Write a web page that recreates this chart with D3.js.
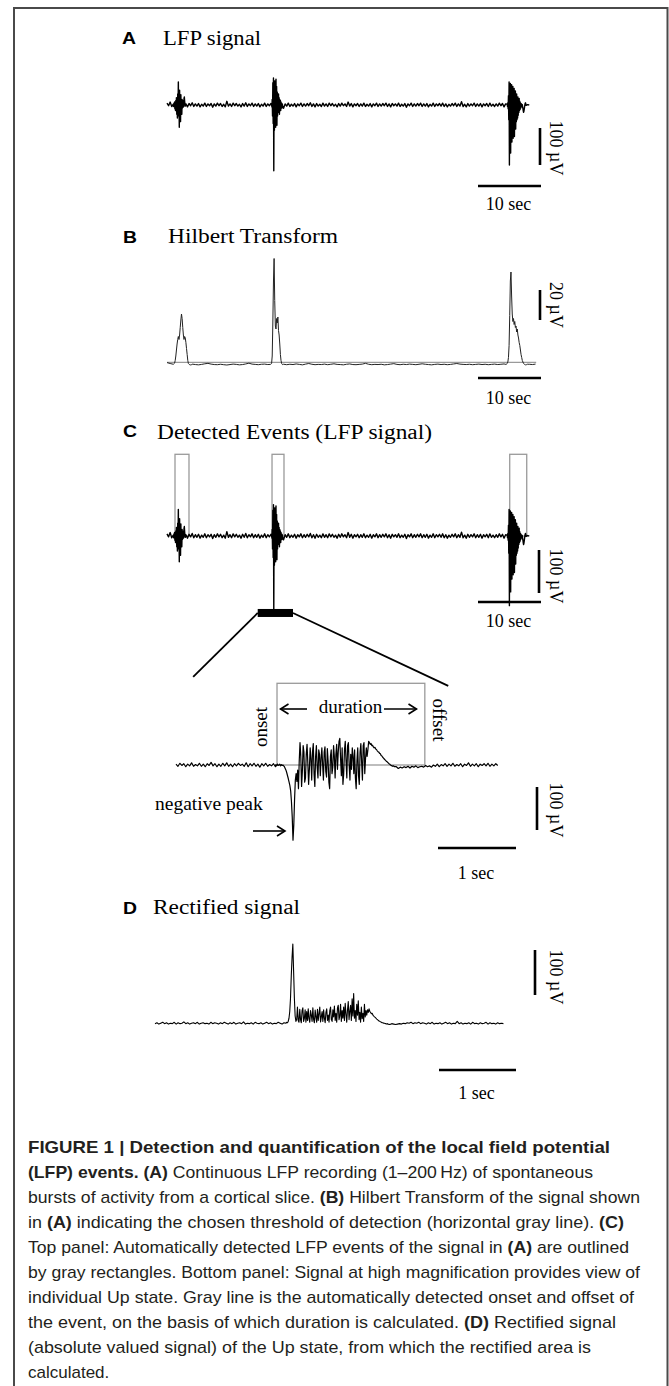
<!DOCTYPE html>
<html><head><meta charset="utf-8">
<script src="https://cdn.jsdelivr.net/npm/d3@7"></script>
<style>body{margin:0;background:#fff}svg{display:block}</style>
</head><body><svg id="fig" width="669" height="1386"></svg>
<script>
// ---------------- DATA ----------------
// LFP recording (panels A and C-top), µV. Baseline sampled every 0.25 s, events every 0.05 s
const lfpBaseDt = 0.25;
const lfpBase = [
5,-2,8,-4,3,-5,4,-3,2,-4,5,-3,3,-5,4,-2,6,-4,3,-3,
4,-5,2,-3,5,-4,3,-2,4,-6,3,-3,5,-2,4,-4,2,-5,10,-3,
3,-4,5,-2,4,-3,2,-5,4,-3,6,-4,3,-2,5,-4,3,-3,4,-5,
2,-3,5,-4,3,-2,4,-5,3,-3,5,-2,4,-4,-9,3,-3,5,-4,2,
-3,4,-5,3,-2,5,-4,3,-3,4,-2,6,-4,3,-5,4,-3,2,-4,5,
-3,3,-4,5,-2,4,-3,2,-5,4,-3,5,-2,3,-4,8,-3,4,-5,3,
-2,4,-4,3,-3,5,-4,2,-3,4,-5,3,-2,5,-4,3,-3,4,-2,5,
-4,3,-5,4,-2,3,-3,5,-4,2,-3,4,-6,3,-2,5,-4,3,-3,4,
-2,5,-4,3,-3,4,-5,2,-3,5,-4,3,-2,4,-3,5,-4,3,-5,2,
-3,4,-2,5,-4,3,-3,9,-4,2,-5,4,-3,3,-2,5,-4,3,-3,4,
-5,3,-2,4,-4,5,-3,2,-4,3,-3,5,-2,4,-5,3,-3,4,-2,5,
-4,3,-3,4,-2,3,-4,2,-1,1,0];
const lfpEventDt = 0.05;
const lfpEventStarts = [1.0, 16.6, 54.0];
const lfpEvent1 = [2,-4,5,-3,8,-10,6,-15,12,-8, 20,-25,15,-35,30,-20,62,-30,25,-60,
  40,-22,18,-45,28,-15,10,-25,15,-8, 12,-6,8,-4,18,22,10,3,-3,2];
const lfpEvent2 = [2,-5,15,-30,60,-50,73,-178,40,-68, 65,-45,55,-60,70,-40,50,-55,35,-30,
  25,-20,30,-18,20,-25,15,-10,12,-15, 8,-6,5,-8,3,-2];
const lfpEvent3 = [2,-4,6,-10,25,-40,62,-162,45,-95, 58,-130,40,-80,55,-100,35,-70,50,-90,
  30,-60,45,-85,25,-50,38,-65,20,-45, 30,-40,15,-35,22,-28,12,-20,18,-15,
  10,-12,6,-8,4,-5,2,-4,1,-6, -10,-16,-20,-17,-12,-6,0,4,6,3];

// Hilbert transform (panel B), µV. Baseline every 0.5 s, events every 0.1 s
const hilbertBaseDt = 0.5;
const hilbertBase = [3.6,3.0,2.8,3.0,2.6,2.4,2.5,2.2,2.6,2.3,2.1,2.4,2.8,3.1,2.6,2.3,2.2,2.5,2.2,2.0,
  2.3,2.6,2.4,2.1,2.3,2.7,3.2,2.6,2.4,2.2,2.5,2.6,2.3,2.9,2.4,2.6,2.8,2.3,2.2,2.5,
  2.3,2.7,2.4,2.1,2.6,3.0,2.5,2.2,2.4,2.3,2.6,2.2,2.5,2.8,2.4,2.3,2.1,2.5,2.7,2.3,
  2.2,2.4,2.6,3.1,2.5,2.2,2.4,2.3,2.5,2.1,2.3,2.6,2.9,2.4,2.2,2.5,2.3,2.6,2.4,2.2,
  2.5,2.8,2.5,2.3,2.1,2.4,2.6,2.3,2.5,2.2,2.4,2.7,3.0,2.6,2.4,2.3,2.5,2.2,2.4,2.6,
  2.3,2.5,2.2,2.4,2.6,2.3,2.5,2.7,2.4,2.3,2.5,2.2,2.4,2.6,2.2,2.5,2.3,2.6];
const hilbertEventDt = 0.1;
const hilbertEventStarts = [1.0, 16.4, 53.8];
const hilbertEvent1 = [2.5,2.8,3.2,5,8,12,16,19,21,19,22,27,32,36,33,27,22,19,21,20,17,13,9,5,3,2.5,2.2,2.0,2.3,2.1];
const hilbertEvent2 = [2.4,2.6,3,8,30,58,73,45,28,26,33,30,34,25,22,16,9,5,3,2.4,2.2,2.5];
const hilbertEvent3 = [2.4,2.6,3,4,7,15,35,58,64,48,36,31,33,29,31,27,28,24,26,22,20,17,15,12,9,7,5,4,3,2.6,2.3,2.1,2.4,2.2,2.5];
const hilbertThreshold = 3.8;

// Detected event windows (panel C), s, and rectangle height, µV
const eventOnsets  = [1.27, 16.67, 54.4];
const eventOffsets = [3.49, 18.57, 57.1];
const eventBoxTop = 190;
const zoomWindow = [14.4, 20.0];

// Magnified Up state (panel C-bottom), µV. Baseline every 0.025 s, event every 0.01 s
const zoomBaseDt = 0.025;
const zoomBase = [2,-3,4,-1,3,-4,2,-2,5,-3,1,-2,4,-3,2,-4,3,-1,6,-2,
  3,-4,2,-3,4,-2,5,-3,2,-4,3,-2,4,-1,2,-3,5,-4,3,-2,
  4,-3,2,-5,3,-2,4,-3,1,-2,3,-4,2,-1,4,-3,2,-2,3,-4,
  2,-3,4,-2,3,-3,2,-4,3,-2,4,-3,2,-3,4,-2,3,-4,2,-3,
  3,-2,4,-3,2,-4,3,-2,4,-3,2,-3,4,-2,3,-4,2,-3,3,-2,
  3,-4,2,-3,4,-2,3,-3,2,-4,3,-2,-6,-4,-8,-5,-7,-4,-6,-3,
  -7,-3,-5,-2,-6,-4,-3,-5,-1,-4,-2,-5,0,-3,2,-4,1,-2,3,-3,
  2,-2,4,-3,1,-2,3,-4,2,-1,5,-3,2,-2,3,-4,2,-1,3,-2,
  4,-3,2,-2,3,-1];
const zoomEventDt = 0.01;
const zoomEventStart = 1.28;
const zoomEvent = [1,-2,2,-1,0,2,-2,1,-1,0,
  -2,-4,-8,-12,-18,-25,-32,-40,-48,-60,
  -85,-120,-175,-140,-80,-35,-20,-38,-12,-55,
  10,52,20,-50,-15,45,30,-40,-30,25,
  48,5,-45,-10,40,15,-35,30,50,-20,
  -50,20,45,-5,-30,35,25,-25,15,40,
  0,-35,30,42,-15,-28,38,10,-40,-55,
  20,35,-20,-5,45,20,-30,25,48,-10,
  30,55,62,15,-25,40,-45,-20,35,55,
  10,-30,45,52,0,-35,25,-10,40,20,
  -20,35,-30,-55,10,40,-25,-45,30,50,
  5,-35,45,52,-20,15,40,20,35,55,
  52,48,50,45,46,42,40,41,37,36,
  33,31,30,27,26,22,21,18,16,14,
  12,10,8,7,5,3,2,0,-1,-2,
  -3,-2,-4];
const zoomOnset = 1.295, zoomOffset = 3.19;

// Rectified signal (panel D), µV
const rectBaseDt = 0.025;
const rectBase = [3,5,2,4,6,3,5,2,4,3,6,2,5,3,4,7,3,5,2,4,
  5,3,6,2,4,5,3,4,2,6,3,5,4,2,5,3,6,4,2,5,
  3,6,2,4,5,3,7,2,4,3,5,2,6,4,3,5,2,4,6,3,
  5,2,4,3,6,4,2,5,3,4,2,5,3,6,2,4,3,5,4,2,
  4,3,5,2,6,3,4,2,5,3,4,6,2,5,3,4,2,5,3,4,
  2,5,3,4,6,2,4,3,5,2,4,3,5,2,6,3,4,2,5,3,
  1,2,1,3,2,1,2,3,2,4,3,5,4,6,3,5,4,6,3,5,
  4,2,5,3,6,2,4,3,5,2,4,6,3,5,2,4,3,8,3,5,
  2,4,3,5,2,6,3,4,2,5,3,4,6,2,5,3,4,2,5,3,
  4,3];
const rectEventDt = 0.01;
const rectEventStart = 1.70;
const rectEvent = [4,6,5,8,15,30,60,110,150,180,
  120,60,20,8,12,40,10,6,35,12,
  5,32,38,8,15,34,6,30,10,36,
  14,6,32,22,8,38,12,5,33,18,
  6,35,10,25,40,7,18,30,8,34,
  15,5,28,36,10,22,6,32,40,12,
  8,34,18,42,10,26,6,38,44,12,
  20,46,8,32,15,40,10,48,25,6,
  34,52,12,30,44,10,58,20,70,15,
  32,8,46,22,54,12,28,6,40,14,
  26,8,46,18,32,22,34,28,36,30,
  28,25,26,22,20,18,17,15,13,12,
  10,9,8,7,6,5,5,4,4,3,
  3,2,3];

// Labels
const panelLetters = ["A","B","C","D"];
const panelTitles = ["LFP signal","Hilbert Transform","Detected Events (LFP signal)","Rectified signal"];
const ampLabels = ["100 µV","20 µV","100 µV","100 µV","100 µV"];
const timeLabels = ["10 sec","10 sec","10 sec","1 sec","1 sec"];
const ampBars = [100, 20, 100, 100, 100];
const timeBars = [10, 10, 10, 1, 1];

// ---------------- DRAWING ----------------
const svg = d3.select("#fig");
svg.append("rect").attr("width",669).attr("height",1386).attr("fill","#fff");

function buildTrace(base, baseDt, starts, evDt, events){
  const wins = events.map((ev,i)=>[starts[i], starts[i]+evDt*(ev.length-1)]);
  const pts = [];
  base.forEach((v,i)=>{const t=i*baseDt; if(!wins.some(w=>t>=w[0]-1e-9&&t<=w[1]+1e-9)) pts.push({t,v});});
  events.forEach((ev,k)=>ev.forEach((v,j)=>pts.push({t:starts[k]+j*evDt,v})));
  return pts.sort((a,b)=>a.t-b.t);
}

const lfp = buildTrace(lfpBase, lfpBaseDt, lfpEventStarts, lfpEventDt, [lfpEvent1,lfpEvent2,lfpEvent3]);
const hil = buildTrace(hilbertBase, hilbertBaseDt, hilbertEventStarts, hilbertEventDt, [hilbertEvent1,hilbertEvent2,hilbertEvent3]);
const zm = buildTrace(zoomBase, zoomBaseDt, [zoomEventStart], zoomEventDt, [zoomEvent]);
const rc = buildTrace(rectBase, rectBaseDt, [rectEventStart], rectEventDt, [rectEvent]);

// scales
const xL = d3.scaleLinear().domain([0,10]).range([167,230]);
const yA = d3.scaleLinear().domain([0,100]).range([105,68]);
const yB = d3.scaleLinear().domain([0,20]).range([368,338]);
const yC = d3.scaleLinear().domain([0,100]).range([536,493]);
const xZ = d3.scaleLinear().domain([0,1]).range([176,254]);
const yZ = d3.scaleLinear().domain([0,100]).range([765,722]);
const xD = d3.scaleLinear().domain([0,1]).range([155,232]);
const yD = d3.scaleLinear().domain([0,100]).range([1025,980]);

// frame
svg.append("path").attr("d","M14,1386V8H667.5V1386").attr("fill","none").attr("stroke","#4a4a4a").attr("stroke-width",2);

function trace(data,x,y,w,col){
  svg.append("path").datum(data)
    .attr("d",d3.line().x(d=>x(d.t)).y(d=>y(d.v)))
    .attr("fill","none").attr("stroke",col||"#000").attr("stroke-width",w).attr("stroke-linejoin","round");
}

// Panel C boxes (drawn under trace)
eventOnsets.forEach((on,i)=>{
  svg.append("rect").attr("x",xL(on)).attr("y",yC(eventBoxTop))
    .attr("width",xL(eventOffsets[i])-xL(on)).attr("height",yC(0)-yC(eventBoxTop))
    .attr("fill","none").attr("stroke","#9a9a9a").attr("stroke-width",1.3);
});
// zoom box
svg.append("rect").attr("x",xZ(zoomOnset)).attr("y",yZ(eventBoxTop))
  .attr("width",xZ(zoomOffset)-xZ(zoomOnset)).attr("height",yZ(0)-yZ(eventBoxTop))
  .attr("fill","none").attr("stroke","#9a9a9a").attr("stroke-width",1.3);

// threshold B
svg.append("line").attr("x1",xL(0)).attr("x2",xL(58.6)).attr("y1",yB(hilbertThreshold)).attr("y2",yB(hilbertThreshold))
  .attr("stroke","#9a9a9a").attr("stroke-width",1.2);

trace(lfp,xL,yA,1.4);
trace(hil,xL,yB,1.0,"#222");
trace(lfp,xL,yC,1.4);
trace(zm,xZ,yZ,1.2);
trace(rc,xD,yD,1.1);

// zoom indicator
const barV = -179;
svg.append("rect").attr("x",xL(zoomWindow[0])).attr("y",yC(barV)-4)
  .attr("width",xL(zoomWindow[1])-xL(zoomWindow[0])).attr("height",8).attr("fill","#000");
svg.append("line").attr("x1",xL(zoomWindow[0])).attr("y1",yC(barV)).attr("x2",xZ(0.22)).attr("y2",yZ(205))
  .attr("stroke","#000").attr("stroke-width",1.8);
svg.append("line").attr("x1",xL(zoomWindow[1])).attr("y1",yC(barV)).attr("x2",xZ(3.49)).attr("y2",yZ(184))
  .attr("stroke","#000").attr("stroke-width",1.8);

// scale bars
const bars = [
  {x:xL,y:yA,vx:540,vTop:128,hy:186,hR:541,lx:549.5,ly:148,ty:210},
  {x:xL,y:yB,vx:540,vTop:290,hy:378,hR:541,lx:549.5,ly:305,ty:404},
  {x:xL,y:yC,vx:539,vTop:550,hy:602,hR:541,lx:549.5,ly:576,ty:627},
  {x:xZ,y:yZ,vx:537,vTop:787,hy:848,hR:516,lx:549.5,ly:810,ty:879},
  {x:xD,y:yD,vx:535,vTop:950,hy:1070,hR:516,lx:549.5,ly:977,ty:1099}
];
bars.forEach((b,i)=>{
  const vl = b.y(0)-b.y(ampBars[i]);
  const hl = b.x(timeBars[i])-b.x(0);
  svg.append("line").attr("x1",b.vx).attr("x2",b.vx).attr("y1",b.vTop).attr("y2",b.vTop+vl)
    .attr("stroke","#000").attr("stroke-width",2.6);
  svg.append("line").attr("x1",b.hR-hl).attr("x2",b.hR).attr("y1",b.hy).attr("y2",b.hy)
    .attr("stroke","#000").attr("stroke-width",2.6);
  svg.append("text").attr("transform",`translate(${b.lx},${b.ly}) rotate(90)`)
    .attr("text-anchor","middle").attr("font-family","Liberation Serif").attr("font-size",18)
    .text(ampLabels[i]);
  svg.append("text").attr("x",b.hR-hl/2-1).attr("y",b.ty).attr("text-anchor","middle")
    .attr("font-family","Liberation Serif").attr("font-size",18).text(timeLabels[i]);
});

// panel headings
const letterPos = [[122,44],[123,243],[123,437],[123,914]];
const titlePos = [[163,45,98],[168,243,170],[157,439,275],[153,914,147]];
panelLetters.forEach((L,i)=>{
  svg.append("text").attr("x",letterPos[i][0]).attr("y",letterPos[i][1])
    .attr("font-family","Liberation Sans").attr("font-weight","bold").attr("font-size",16)
    .attr("textLength",14).attr("lengthAdjust","spacingAndGlyphs").text(L);
  svg.append("text").attr("x",titlePos[i][0]).attr("y",titlePos[i][1])
    .attr("font-family","Liberation Serif").attr("font-size",20)
    .attr("textLength",titlePos[i][2]).attr("lengthAdjust","spacingAndGlyphs").text(panelTitles[i]);
});

// annotations in magnified view
function serif(x,y,s,size,anchor,rot){
  const t = svg.append("text").attr("font-family","Liberation Serif").attr("font-size",size)
    .attr("text-anchor",anchor||"start").text(s);
  if(rot!==undefined) t.attr("transform",`translate(${x},${y}) rotate(${rot})`);
  else t.attr("x",x).attr("y",y);
  return t;
}
serif(267,727,"onset",19,"middle",-90);
serif(433,720,"offset",19,"middle",90);
serif(350.5,713,"duration",19,"middle");
serif(155,810,"negative peak",19.5,"start");

function arrow(x1,x2,y){ // head at x2
  const d = x2>x1?-1:1;
  svg.append("line").attr("x1",x1).attr("x2",x2).attr("y1",y).attr("y2",y).attr("stroke","#000").attr("stroke-width",1.6);
  svg.append("path").attr("d",`M${x2+d*8},${y-5}L${x2},${y}L${x2+d*8},${y+5}`)
    .attr("fill","none").attr("stroke","#000").attr("stroke-width",1.6);
}
arrow(307,280.5,709);
arrow(384,416.5,709);
arrow(253,285,831);

// caption
const captionLines = [
  [["FIGURE 1 | Detection and quantification of the local field potential",1]],
  [["(LFP) events. (A)",1],[" Continuous LFP recording (1–200\u2009Hz) of spontaneous",0]],
  [["bursts of activity from a cortical slice. ",0],["(B)",1],[" Hilbert Transform of the signal shown",0]],
  [["in ",0],["(A)",1],[" indicating the chosen threshold of detection (horizontal gray line). ",0],["(C)",1]],
  [["Top panel: Automatically detected LFP events of the signal in ",0],["(A)",1],[" are outlined",0]],
  [["by gray rectangles. Bottom panel: Signal at high magnification provides view of",0]],
  [["individual Up state. Gray line is the automatically detected onset and offset of",0]],
  [["the event, on the basis of which duration is calculated. ",0],["(D)",1],[" Rectified signal",0]],
  [["(absolute valued signal) of the Up state, from which the rectified area is",0]],
  [["calculated.",0]]
];
const captionWidths = [582,565,612,596,601,612,606,588,563,null];
captionLines.forEach((segs,k)=>{
  const t = svg.append("text").attr("x",28).attr("y",1153+25*k)
    .attr("font-family","Liberation Sans").attr("font-size",17).attr("fill","#231f20");
  if(captionWidths[k]) t.attr("textLength",captionWidths[k]).attr("lengthAdjust","spacingAndGlyphs");
  segs.forEach(s=>t.append("tspan").attr("font-weight",s[1]?"bold":"normal").text(s[0]));
});
</script></body></html>
